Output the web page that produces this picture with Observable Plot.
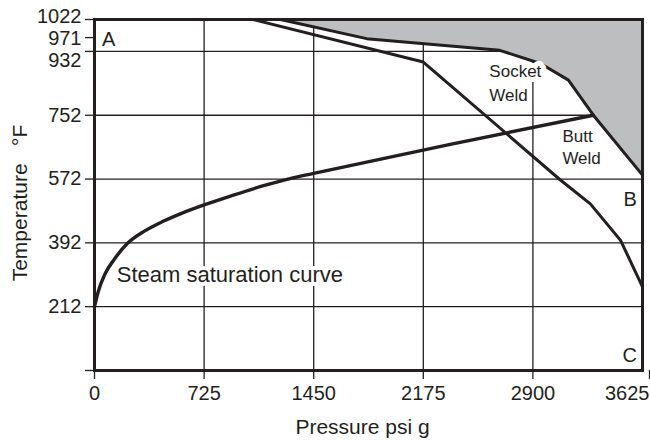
<!DOCTYPE html>
<html><head><meta charset="utf-8">
<script src="https://cdn.jsdelivr.net/npm/d3@7"></script>
<script src="https://cdn.jsdelivr.net/npm/@observablehq/plot@0.6"></script>
<style>
body{margin:0;background:#fff}
#chart svg{display:block}
</style>
</head><body><div id="chart"></div>
<script>
// Axis ticks
const xTicks = [0, 725, 1450, 2175, 2900, 3625];
const yTicks = [32, 212, 392, 572, 752, 932, 971, 1022];
const xGrid = [725, 1450, 2175, 2900];
const yGrid = [212, 392, 572, 752, 932];

// Steam saturation curve (pressure psi g, temperature °F)
const satP = [0, 25, 70, 130, 217, 330, 450, 580, 725, 900, 1100, 1300, 1450, 2353, 3300];
const satT = [212, 255, 305, 345, 390, 425, 452, 476, 499, 524, 551, 574, 588, 670, 752];

// Upper limit curve (socket weld, bounds grey region)
const upperP = [1230, 1800, 2680, 2950, 3135, 3300, 3625];
const upperT = [1022, 968, 935, 898, 851, 752, 583];

// Lower limit curve
const lowerP = [1049, 2175, 3080, 3280, 3480, 3625];
const lowerT = [1022, 902, 570, 502, 399, 268];

// Region letters
const letterText = ["A", "B", "C"];
const letterP = [50, 3499, 3493];
const letterT = [964, 515, 75];

// Weld labels
const weldText = ["Socket", "Weld", "Butt", "Weld"];
const weldP = [2612, 2612, 3095, 3095];
const weldT = [875, 808, 691, 629];

const satLabel = ["Steam saturation curve"];
const satLabelP = [147];
const satLabelT = [301];

const ink = "#231f20";
const zip = (P, T) => P.map((p, i) => ({p, t: T[i]}));
const sat = zip(satP, satT);
const upper = zip(upperP, upperT);
const lower = zip(lowerP, lowerT);
const letters = letterText.map((s, i) => ({s, p: letterP[i], t: letterT[i]}));
const welds = weldText.map((s, i) => ({s, p: weldP[i], t: weldT[i]}));
const satLab = satLabel.map((s, i) => ({s, p: satLabelP[i], t: satLabelT[i]}));

const crowded = [932, 971, 1022];
const yFmt = d => (d === 32 || crowded.includes(d)) ? "" : String(d);
const topLabel = (v, dy) => Plot.text([v], {y: d => d, text: d => String(d), frameAnchor: "left",
  textAnchor: "end", lineAnchor: "middle", dx: -13, dy, fontSize: 20, fill: ink});

const chart = Plot.plot({
  width: 650,
  height: 440,
  marginLeft: 94,
  marginRight: 8,
  marginTop: 19,
  marginBottom: 70,
  style: {fontFamily: "'Liberation Sans', Arial, Helvetica, sans-serif", fontSize: "20px", color: ink, background: "#fff"},
  x: {domain: [0, 3625]},
  y: {domain: [32, 1022]},
  marks: [
    Plot.ruleX(xGrid, {stroke: ink, strokeWidth: 1.3}),
    Plot.ruleY(yGrid, {stroke: ink, strokeWidth: 1.3}),
    Plot.areaY(upper, {x: "p", y1: "t", y2: 1022, fill: "#bcbec0"}),
    Plot.line(sat, {x: "p", y: "t", stroke: ink, strokeWidth: 3.4, curve: "monotone-x"}),
    Plot.line(upper, {x: "p", y: "t", stroke: ink, strokeWidth: 3}),
    Plot.line(lower, {x: "p", y: "t", stroke: ink, strokeWidth: 3}),
    Plot.text(satLab, {x: "p", y: "t", text: "s", textAnchor: "start", fontSize: 22, fill: ink, stroke: "white", strokeWidth: 8, paintOrder: "stroke"}),
    Plot.text(welds, {x: "p", y: "t", text: "s", textAnchor: "start", fontSize: 17, fill: ink, stroke: "white", strokeWidth: 10, paintOrder: "stroke"}),
    Plot.text(letters, {x: "p", y: "t", text: "s", textAnchor: "start", fontSize: 20, fill: ink}),
    Plot.frame({stroke: ink, strokeWidth: 3}),
    Plot.axisX({ticks: xTicks.slice(0, -1), tickSize: 9, tickPadding: 6, label: null, strokeWidth: 1.3,
      tickFormat: d => String(d)}),
    Plot.axisX({ticks: xTicks.slice(-1), tickSize: 9, tickPadding: 6, label: null, strokeWidth: 1.3,
      tickFormat: d => String(d), textAnchor: "end", dx: 7}),
    Plot.axisY({ticks: yTicks, tickSize: 9, tickPadding: 4, label: null, strokeWidth: 1.3, tickFormat: yFmt}),
    topLabel(1022, -3),
    topLabel(971, 1),
    topLabel(932, 9),
    Plot.text(["Temperature\u00a0\u00a0\u00a0°F"], {frameAnchor: "left", textAnchor: "middle", lineAnchor: "middle", rotate: -90, dx: -74, dy: 8, fontSize: 21, fill: ink}),
    Plot.text(["Pressure psi g"], {frameAnchor: "bottom", textAnchor: "middle", lineAnchor: "middle", dx: -6, dy: 57, fontSize: 21, fill: ink})
  ]
});
document.getElementById("chart").appendChild(chart);
</script>
</body></html>
